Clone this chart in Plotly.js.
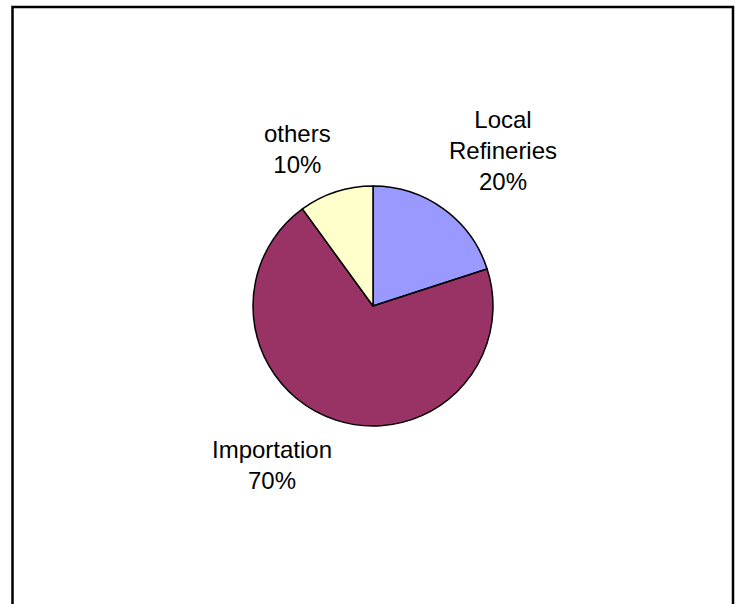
<!DOCTYPE html>
<html>
<head>
<meta charset="utf-8">
<script src="https://cdn.plot.ly/plotly-3.0.1.min.js"></script>
<style>html,body{margin:0;padding:0;background:#fff;}#chart{width:735px;height:604px;}</style>
</head>
<body>
<div id="chart"></div>
<script>
const categories = ["Local<br>Refineries", "Importation", "others"];
const values = [20, 70, 10];
const colors = ["#9999FF", "#993366", "#FFFFCC"];

const W = 735, H = 604;
const total = values.reduce((a, b) => a + b, 0);
const pct = values.map(v => Math.round(v / total * 100) + "%");

// label placements (pixel positions in the page)
const labelPos = [
  {x: 503, y: 150},
  {x: 272, y: 465},
  {x: 297, y: 149}
];

const annotations = categories.map((c, i) => ({
  text: c + "<br>" + pct[i],
  xref: "paper", yref: "paper",
  x: labelPos[i].x / W, y: 1 - labelPos[i].y / H,
  xanchor: "center", yanchor: "middle",
  showarrow: false, align: "center",
  font: {family: "Liberation Sans, Arial, sans-serif", size: 24, color: "#000"}
}));

const trace = {
  type: "pie",
  labels: categories,
  values: values,
  sort: false,
  direction: "clockwise",
  rotation: 0,
  textinfo: "none",
  hoverinfo: "none",
  marker: {colors: colors, line: {color: "#000", width: 1.5}},
  domain: {x: [253 / W, 493 / W], y: [1 - 427 / H, 1 - 185 / H]},
  showlegend: false
};

const layout = {
  width: W, height: H,
  margin: {l: 0, r: 0, t: 0, b: 0},
  paper_bgcolor: "#fff",
  plot_bgcolor: "#fff",
  showlegend: false,
  annotations: annotations,
  shapes: [{
    type: "path", xref: "paper", yref: "paper",
    path: `M ${12.5 / W} -0.05 L ${12.5 / W} ${1 - 7 / H} L ${733 / W} ${1 - 7 / H} L ${733 / W} -0.05`,
    line: {color: "#000", width: 2.5}
  }]
};

Plotly.newPlot("chart", [trace], layout, {staticPlot: true, displayModeBar: false});
</script>
</body>
</html>
